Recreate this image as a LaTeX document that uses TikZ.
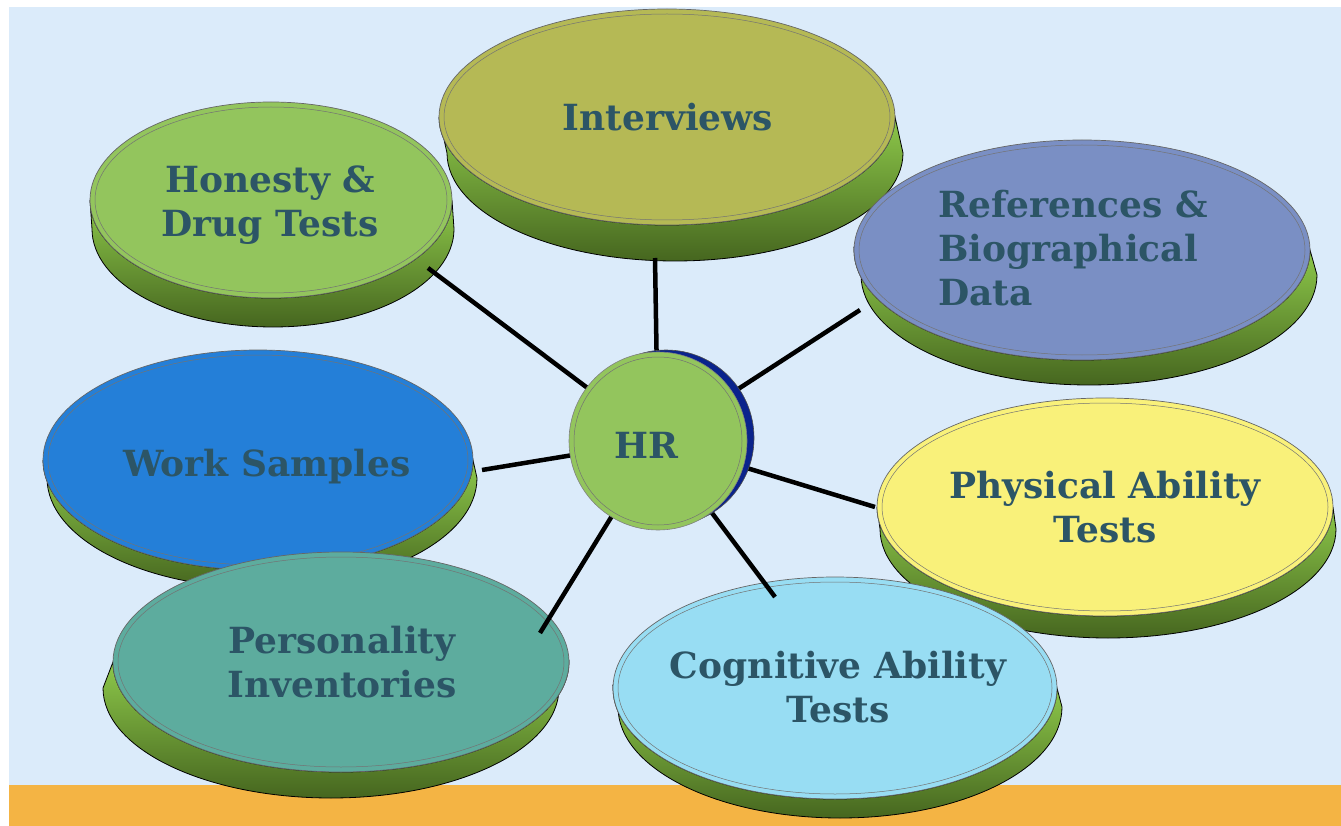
\documentclass[tikz,border=0pt]{standalone}
\usepackage{fontspec}
\setmainfont{DejaVu Serif}
\usetikzlibrary{shapes.geometric}
\pgfdeclarelayer{bg}\pgfdeclarelayer{fg}\pgfsetlayers{bg,main,fg}
\definecolor{bgblue}{HTML}{DBEBFA}
\definecolor{bandorange}{HTML}{F4B444}
\definecolor{txt}{HTML}{2C5566}
\definecolor{wallhi}{HTML}{8DC84A}
\definecolor{walllo}{HTML}{46661F}
\definecolor{cIv}{HTML}{B5B955}
\definecolor{cHon}{HTML}{93C55D}
\definecolor{cRef}{HTML}{7A8FC4}
\definecolor{cWs}{HTML}{247FD8}
\definecolor{cPhy}{HTML}{F9F17A}
\definecolor{cPer}{HTML}{5DAC9E}
\definecolor{cCog}{HTML}{98DDF3}
\definecolor{cHR}{HTML}{93C55D}
\definecolor{navy}{HTML}{0A238C}
\newcommand\mltext[2]{\begin{tabular}[t]{@{}#1@{}}#2\end{tabular}}
\tikzset{
  wall/.style={draw=black, line width=0.8pt, top color=wallhi, bottom color=walllo},
  face/.style={ellipse, draw=black!60, line width=0.7pt, inner sep=0pt, outer sep=0pt},
  inner/.style={draw=black!55, line width=0.5pt},
  lab/.style={font=\fontsize{36}{44}\selectfont\bfseries, text=txt, inner sep=0pt},
  conn/.style={draw=black, line width=4.5pt},
}
% #1 name, #2 cx, #3 cy, #4 rx, #5 ry, #6 dx, #7 dy, #8 colour
\newcommand\disk[8]{%
  \path[wall] ({#2-#4}, #3) -- ({#2-#4+(#6)}, {#3+(#7)})
    arc[start angle=180, end angle=0, x radius=#4, y radius=#5]
    -- ({#2+#4}, #3)
    arc[start angle=0, end angle=180, x radius=#4, y radius=#5] -- cycle;
  \node[face, fill=#8, minimum width={2*#4}, minimum height={2*#5}] (#1) at (#2,#3) {};
  \draw[inner] (#1.center) ellipse[x radius={#4-5}, y radius={#5-5}];
}
\begin{document}
\begin{tikzpicture}[x=1pt, y=-1pt]
\useasboundingbox (0,0) rectangle (1341,826);
\begin{pgfonlayer}{bg}
  \fill[white] (0,0) rectangle (1341,826);
  \fill[bgblue] (9,7) rectangle (1341,785);
  \fill[bandorange] (9,785) rectangle (1341,826);
  \disk{iv}{667}{117}{228}{108}{8}{36}{cIv}
  \disk{hon}{271}{200}{181}{98}{2}{29}{cHon}
  \disk{ref}{1082}{250}{228}{110}{7}{25}{cRef}
  \disk{phy}{1105}{507}{228}{109}{3}{22}{cPhy}
  \disk{ws}{258}{460}{215}{110}{4}{18}{cWs}
  \disk{cog}{835}{688}{222}{111}{5}{19}{cCog}
  \disk{per}{341}{662}{228}{110}{-10}{26}{cPer}
  \node[lab, anchor=base] (iv-t) at (668,131) {Interviews};
  \node[lab, anchor=base] (hon-t) at (270,193) {\mltext{c}{Honesty \&\\Drug Tests}};
  \node[lab, anchor=base west] (ref-t) at (938,218) {\mltext{l}{References \&\\Biographical\\Data}};
  \node[lab, anchor=base] (ws-t) at (267,476) {Work Samples};
  \node[lab, anchor=base] (phy-t) at (1105,498) {\mltext{c}{Physical Ability\\Tests}};
  \node[lab, anchor=base] (per-t) at (342,653) {\mltext{c}{Personality\\Inventories}};
  \node[lab, anchor=base] (cog-t) at (838,678) {\mltext{c}{Cognitive Ability\\Tests}};
\end{pgfonlayer}
\begin{pgfonlayer}{fg}
  \node[circle, fill=navy, draw=black!70, line width=0.6pt, minimum size=176, inner sep=0pt] (hr-back) at (666,438) {};
  \node[circle, fill=cHR, draw=black!50, line width=0.6pt, minimum size=178, inner sep=0pt] (hr) at (658,441) {};
  \draw[inner] (hr.center) circle[radius=84];
  \node[lab, anchor=base] (hr-t) at (646,458) {HR};
\end{pgfonlayer}
\coordinate (e-iv) at (655,258);
\coordinate (e-hon) at (428,268);
\coordinate (e-ref) at (860,310);
\coordinate (e-ws) at (482,470);
\coordinate (e-phy) at (875,507);
\coordinate (e-cog) at (775,597);
\coordinate (e-per) at (540,633);
\foreach \e in {iv,hon,ref,ws,phy,cog,per}{
  \draw[conn] (hr.center) -- (e-\e);
}
\end{tikzpicture}
\end{document}
